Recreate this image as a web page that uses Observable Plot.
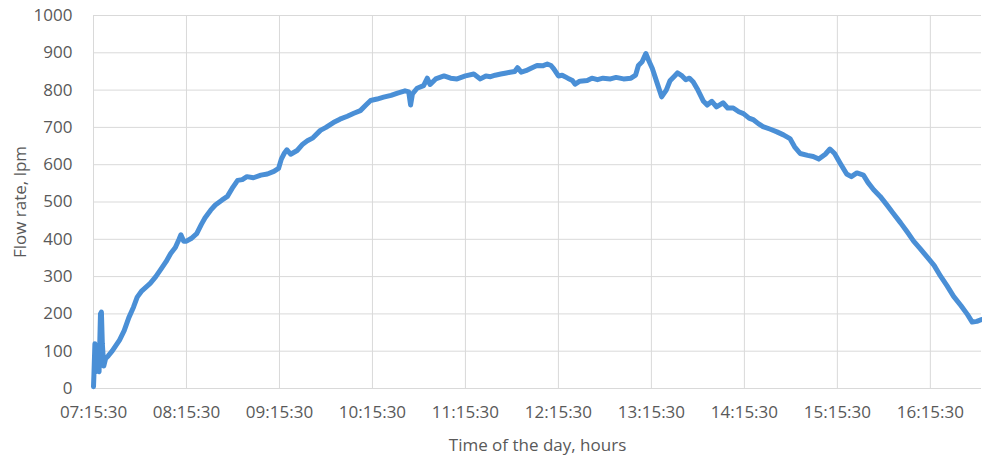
<!DOCTYPE html>
<html>
<head>
<meta charset="utf-8">
<script src="https://cdn.jsdelivr.net/npm/d3@7"></script>
<script src="https://cdn.jsdelivr.net/npm/@observablehq/plot@0.6"></script>
<style>
  html, body { margin: 0; padding: 0; background: #fff; }
  #chart svg { display: block; }
</style>
</head>
<body>
<div id="chart"></div>
<script>
// hours elapsed since 07:15:30
const hours = [
  0.00,0.005,0.015,0.02,0.025,0.045,0.06,0.075,0.085,0.095,0.11,0.13,0.16,0.2,0.24,0.28,0.33,0.38,0.43,0.47,
  0.52,0.61,0.67,0.72,0.78,0.83,0.88,0.92,0.94,0.97,1.0,1.05,1.11,1.16,1.2,1.26,1.31,1.38,1.44,1.5,
  1.55,1.6,1.65,1.72,1.8,1.87,1.94,1.99,2.02,2.05,2.08,2.12,2.19,2.25,2.3,2.36,2.44,2.5,2.58,2.65,
  2.73,2.8,2.87,2.93,2.98,3.05,3.12,3.2,3.27,3.35,3.39,3.41,3.43,3.48,3.55,3.59,3.62,3.68,3.77,3.84,
  3.91,4.0,4.09,4.16,4.22,4.27,4.32,4.38,4.44,4.48,4.53,4.56,4.6,4.65,4.7,4.77,4.83,4.88,4.92,4.95,
  5.0,5.04,5.1,5.15,5.18,5.23,5.31,5.36,5.42,5.48,5.56,5.62,5.7,5.78,5.83,5.86,5.9,5.94,5.97,6.01,
  6.06,6.11,6.16,6.2,6.25,6.28,6.33,6.37,6.41,6.45,6.5,6.56,6.6,6.65,6.7,6.77,6.82,6.88,6.94,6.99,
  7.05,7.1,7.15,7.2,7.28,7.35,7.42,7.49,7.54,7.6,7.68,7.74,7.8,7.87,7.92,7.97,8.03,8.1,8.15,8.21,
  8.28,8.33,8.39,8.46,8.53,8.6,8.68,8.75,8.82,8.89,8.96,9.04,9.11,9.18,9.25,9.33,9.40,9.45,9.5,9.55
];
// flow rate, lpm
const flow = [
  5,40,120,110,45,50,45,200,205,120,60,80,88,100,115,130,155,190,218,245,
  262,282,300,318,340,362,378,400,412,395,395,402,415,440,458,478,492,505,515,540,
  558,560,568,565,572,575,582,590,615,630,640,628,638,655,664,672,692,700,713,722,
  730,738,745,760,772,776,781,786,792,798,795,760,790,805,812,832,815,830,838,832,
  830,838,843,830,838,836,840,843,846,848,850,860,848,852,858,866,865,870,866,857,
  838,840,832,826,816,824,826,832,828,832,830,834,830,832,840,866,876,898,880,858,
  820,782,800,825,838,846,838,828,832,822,800,770,760,770,755,766,752,752,742,737,
  725,720,710,702,695,688,680,670,648,630,625,622,615,628,642,630,604,575,568,578,
  572,552,533,515,493,470,444,420,395,375,354,330,301,275,247,222,198,178,180,185
];
const tickHours = [0,1,2,3,4,5,6,7,8,9];
const tickLabels = ["07:15:30","08:15:30","09:15:30","10:15:30","11:15:30","12:15:30","13:15:30","14:15:30","15:15:30","16:15:30"];
const yTicks = [0,100,200,300,400,500,600,700,800,900,1000];

const data = hours.map((h, i) => ({h, v: flow[i]}));

const chart = Plot.plot({
  width: 982,
  height: 459,
  marginLeft: 93,
  marginRight: 1,
  marginTop: 15,
  marginBottom: 71,
  style: {fontFamily: "'Open Sans', sans-serif", fontSize: "17px", color: "#595959", background: "#fff"},
  x: {domain: [0, 9.55]},
  y: {domain: [0, 1000]},
  marks: [
    Plot.gridX(tickHours, {stroke: "#d9d9d9", strokeOpacity: 1, strokeWidth: 1}),
    Plot.gridY(yTicks, {stroke: "#d9d9d9", strokeOpacity: 1, strokeWidth: 1}),
    Plot.axisX({ticks: tickHours, tickFormat: d => tickLabels[d], tickSize: 0, tickPadding: 17,
      label: "Time of the day, hours", labelAnchor: "center", labelArrow: "none", labelOffset: 62,
      fontSize: 17, fill: "#595959"}),
    Plot.axisY({ticks: yTicks, tickFormat: d => String(d), tickSize: 0, tickPadding: 21,
      label: "Flow rate, lpm", labelAnchor: "center", labelArrow: "none", labelOffset: 80,
      fontSize: 17, fill: "#595959"}),
    Plot.line(data, {x: "h", y: "v", stroke: "#4a8fd6", strokeWidth: 5, strokeLinejoin: "round", strokeLinecap: "round"})
  ]
});
document.getElementById("chart").appendChild(chart);
</script>
</body>
</html>
